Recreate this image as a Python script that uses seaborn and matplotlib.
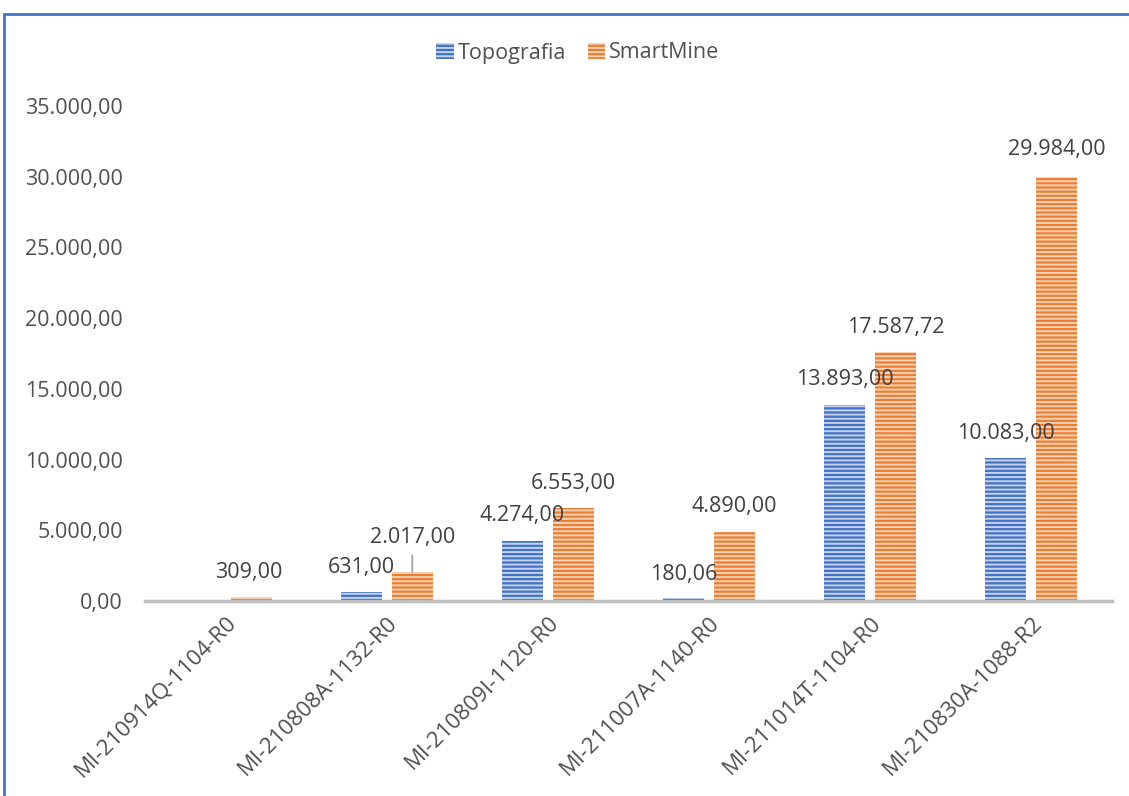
import numpy as np
import pandas as pd
import matplotlib
matplotlib.use("Agg")
import matplotlib.pyplot as plt
import matplotlib.transforms as mtransforms
from matplotlib.patches import Patch, Rectangle
import seaborn as sns

categories = ["MI-210914Q-1104-R0", "MI-210808A-1132-R0", "MI-210809I-1120-R0",
              "MI-211007A-1140-R0", "MI-211014T-1104-R0", "MI-210830A-1088-R2"]
topografia = [0.0, 631.00, 4274.00, 180.06, 13893.00, 10083.00]
smartmine = [309.00, 2017.00, 6553.00, 4890.00, 17587.72, 29984.00]
series_names = ["Topografia", "SmartMine"]
y_ticks = [0, 5000, 10000, 15000, 20000, 25000, 30000, 35000]

colors = {"Topografia": "#4472C4", "SmartMine": "#ED7D31"}
hatch_colors = {"Topografia": "#c3d3f0", "SmartMine": "#f9d3b8"}

# label offsets in pixels (style only)
offsets = {
    "Topografia": [None, (0, 25), (0, 25), (0, 24), (0, 25), (0, 25)],
    "SmartMine": [(-2, 24), (0, 35), (0, 25), (0, 25), (0, 25), (0, 27)],
}

def fmt(v):
    s = f"{v:,.2f}"
    return s.replace(",", "X").replace(".", ",").replace("X", ".")

df = pd.DataFrame({
    "cat": categories * 2,
    "serie": [series_names[0]] * len(categories) + [series_names[1]] * len(categories),
    "val": topografia + smartmine,
})

sns.set_theme(style="white")
plt.rcParams["font.family"] = ["Open Sans", "DejaVu Sans"]
plt.rcParams["hatch.linewidth"] = 1.4
text_color = "#505050"
label_color = "#404040"

fig = plt.figure(figsize=(11.29, 7.96), dpi=100)
ax = fig.add_axes([145 / 1129, 1 - 601 / 796, 967 / 1129, 495 / 796])

sns.barplot(data=df, x="cat", y="val", hue="serie", order=categories,
            hue_order=series_names, palette=colors, width=0.634, gap=0.196,
            ax=ax, legend=False, errorbar=None)

for cont, name in zip(ax.containers, series_names):
    for bar in cont:
        bar.set_facecolor(colors[name])
        bar.set_edgecolor(hatch_colors[name])
        bar.set_hatch("----")
        bar.set_linewidth(0)

for cont, name in zip(ax.containers, series_names):
    vals = topografia if name == "Topografia" else smartmine
    for bar, v, off in zip(cont, vals, offsets[name]):
        if off is None or v == 0:
            continue
        x = bar.get_x() + bar.get_width() / 2
        y = bar.get_height()
        kw = dict(xy=(x, y), xytext=off, textcoords="offset pixels",
                  ha="center", va="center", fontsize=15.5, color=label_color,
                  annotation_clip=False)
        if name == "SmartMine" and v == 2017.00:
            kw["arrowprops"] = dict(arrowstyle="-", color="#a6a6a6", lw=1.3,
                                    shrinkA=3, shrinkB=0)
        ax.annotate(fmt(v), **kw)

ax.set_ylim(0, 35000)
ax.set_xlim(-0.5, len(categories) - 0.5)
ax.set_yticks(y_ticks)
ax.set_yticklabels([fmt(t) for t in y_ticks], fontsize=15.5, color=text_color)
ax.set_xticks(range(len(categories)))
ax.set_xticklabels(categories, rotation=45, ha="right", rotation_mode="anchor",
                   fontsize=16, color=text_color)
offset = mtransforms.ScaledTranslation(-0.17, -0.22, fig.dpi_scale_trans)
for lbl in ax.get_xticklabels():
    lbl.set_transform(lbl.get_transform() + offset)
ax.tick_params(axis="x", length=0, pad=8)
ax.tick_params(axis="y", length=0, pad=16)
ax.set_xlabel("")
ax.set_ylabel("")
for s in ["top", "right", "left"]:
    ax.spines[s].set_visible(False)
ax.spines["bottom"].set_color("#bfbfbf")
ax.spines["bottom"].set_linewidth(2.5)
ax.grid(False)

handles = [Patch(facecolor=colors[n], edgecolor=hatch_colors[n], hatch="----", linewidth=0,
                 label=n) for n in series_names]
fig.legend(handles=handles, loc="center", bbox_to_anchor=(578 / 1129, 1 - 53 / 796),
           ncol=2, frameon=False, fontsize=15.5, labelcolor=text_color,
           handlelength=0.8, handleheight=0.8, handletextpad=0.2, columnspacing=1.0)

fig.patches.append(Rectangle((4 / 1129, -0.1), 1.2, 1 - 14 / 796 + 0.1,
                             transform=fig.transFigure, fill=False,
                             edgecolor="#4472C4", linewidth=2, clip_on=False))

fig.savefig("out.png", dpi=100)
